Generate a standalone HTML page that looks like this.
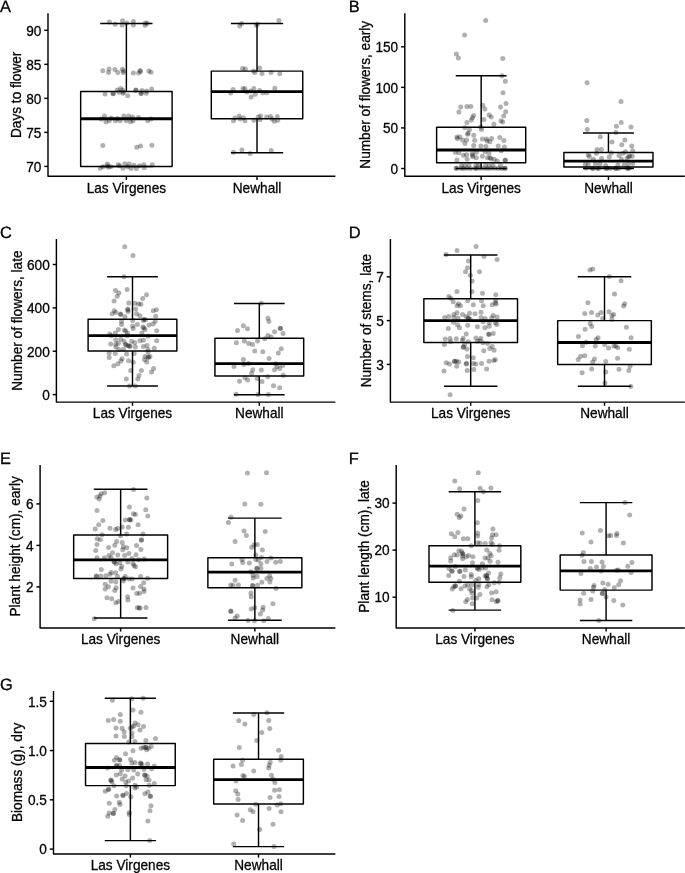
<!DOCTYPE html>
<html><head><meta charset="utf-8"><style>
html,body{margin:0;padding:0;background:#fff;}
svg{display:block;}
text{font-family:"Liberation Sans",sans-serif;font-size:14.6px;fill:#000;stroke:#000;stroke-width:0.3px;}
</style></head><body>
<svg width="685" height="873" viewBox="0 0 685 873">
<g fill="#000" fill-opacity="0.31" stroke="none"><circle cx="109.4" cy="22.1" r="2.5"/><circle cx="115.2" cy="24.2" r="2.5"/><circle cx="122.5" cy="20.7" r="2.5"/><circle cx="122.2" cy="25.0" r="2.5"/><circle cx="126.8" cy="23.1" r="2.5"/><circle cx="133.4" cy="21.5" r="2.5"/><circle cx="133.4" cy="25.0" r="2.5"/><circle cx="145.3" cy="23.1" r="2.5"/><circle cx="147.2" cy="23.3" r="2.5"/><circle cx="145.1" cy="25.2" r="2.5"/><circle cx="102.8" cy="70.8" r="2.5"/><circle cx="109" cy="68.9" r="2.5"/><circle cx="108.5" cy="72.4" r="2.5"/><circle cx="114.9" cy="69.6" r="2.5"/><circle cx="117.8" cy="72.6" r="2.5"/><circle cx="122.3" cy="69.3" r="2.5"/><circle cx="123.3" cy="72.4" r="2.5"/><circle cx="123.5" cy="71" r="2.5"/><circle cx="133.4" cy="72.9" r="2.5"/><circle cx="138.6" cy="73.1" r="2.5"/><circle cx="140.1" cy="70.5" r="2.5"/><circle cx="140.5" cy="71.5" r="2.5"/><circle cx="148.9" cy="71" r="2.5"/><circle cx="151" cy="72.2" r="2.5"/><circle cx="105" cy="94.0" r="2.5"/><circle cx="113" cy="93.8" r="2.5"/><circle cx="113.3" cy="93.5" r="2.5"/><circle cx="117.3" cy="90" r="2.5"/><circle cx="120.6" cy="88.5" r="2.5"/><circle cx="119.2" cy="92.3" r="2.5"/><circle cx="122.5" cy="90" r="2.5"/><circle cx="123" cy="93.3" r="2.5"/><circle cx="123.5" cy="91.9" r="2.5"/><circle cx="127.7" cy="95.7" r="2.5"/><circle cx="135.8" cy="90" r="2.5"/><circle cx="136" cy="90.3" r="2.5"/><circle cx="141" cy="93.3" r="2.5"/><circle cx="141.2" cy="93.6" r="2.5"/><circle cx="142" cy="90.4" r="2.5"/><circle cx="146.7" cy="90.9" r="2.5"/><circle cx="146.2" cy="93.3" r="2.5"/><circle cx="151.7" cy="89" r="2.5"/><circle cx="101.2" cy="118.9" r="2.5"/><circle cx="104.5" cy="115.9" r="2.5"/><circle cx="105.9" cy="121.7" r="2.5"/><circle cx="109.2" cy="120.8" r="2.5"/><circle cx="111.1" cy="118" r="2.5"/><circle cx="115.4" cy="120.8" r="2.5"/><circle cx="117.3" cy="118.4" r="2.5"/><circle cx="120.1" cy="120.8" r="2.5"/><circle cx="123.9" cy="115.9" r="2.5"/><circle cx="126.3" cy="120.8" r="2.5"/><circle cx="128.7" cy="115.9" r="2.5"/><circle cx="130.6" cy="121.7" r="2.5"/><circle cx="132.5" cy="117" r="2.5"/><circle cx="133" cy="120.8" r="2.5"/><circle cx="138.6" cy="117.5" r="2.5"/><circle cx="147.7" cy="120.8" r="2.5"/><circle cx="151" cy="118.9" r="2.5"/><circle cx="102.8" cy="145.4" r="2.5"/><circle cx="136.7" cy="147.3" r="2.5"/><circle cx="140.5" cy="146.1" r="2.5"/><circle cx="151.9" cy="145.2" r="2.5"/><circle cx="100.2" cy="168.2" r="2.5"/><circle cx="103.1" cy="166.7" r="2.5"/><circle cx="107.3" cy="163.9" r="2.5"/><circle cx="108.3" cy="167.2" r="2.5"/><circle cx="107.8" cy="165.8" r="2.5"/><circle cx="110.7" cy="166.7" r="2.5"/><circle cx="118.2" cy="164.8" r="2.5"/><circle cx="119.7" cy="165.8" r="2.5"/><circle cx="123" cy="168.2" r="2.5"/><circle cx="124.9" cy="163.7" r="2.5"/><circle cx="127.7" cy="166.7" r="2.5"/><circle cx="129.2" cy="163.9" r="2.5"/><circle cx="131" cy="168.6" r="2.5"/><circle cx="133.9" cy="165.3" r="2.5"/><circle cx="136.3" cy="168.6" r="2.5"/><circle cx="139.6" cy="165.8" r="2.5"/><circle cx="143.9" cy="164.8" r="2.5"/><circle cx="144.3" cy="167.7" r="2.5"/><circle cx="152.4" cy="164.8" r="2.5"/><circle cx="241.6" cy="23.5" r="2.5"/><circle cx="239.7" cy="25.9" r="2.5"/><circle cx="257.3" cy="24" r="2.5"/><circle cx="256.3" cy="25.4" r="2.5"/><circle cx="278.9" cy="20.5" r="2.5"/><circle cx="242.6" cy="68.6" r="2.5"/><circle cx="245.4" cy="68.9" r="2.5"/><circle cx="253.5" cy="71" r="2.5"/><circle cx="254.9" cy="72.4" r="2.5"/><circle cx="259.6" cy="68.1" r="2.5"/><circle cx="262" cy="73.6" r="2.5"/><circle cx="271" cy="72.4" r="2.5"/><circle cx="279.8" cy="73.8" r="2.5"/><circle cx="230.7" cy="93.1" r="2.5"/><circle cx="233.1" cy="89.5" r="2.5"/><circle cx="243" cy="88.5" r="2.5"/><circle cx="244.9" cy="88.7" r="2.5"/><circle cx="246.8" cy="92.1" r="2.5"/><circle cx="250.6" cy="90.9" r="2.5"/><circle cx="251.1" cy="96.9" r="2.5"/><circle cx="253.9" cy="88.5" r="2.5"/><circle cx="255.2" cy="94.2" r="2.5"/><circle cx="259.6" cy="90.4" r="2.5"/><circle cx="262.8" cy="92.8" r="2.5"/><circle cx="266.7" cy="92.8" r="2.5"/><circle cx="274.8" cy="88.3" r="2.5"/><circle cx="233.5" cy="120.8" r="2.5"/><circle cx="235" cy="118" r="2.5"/><circle cx="239.2" cy="116.1" r="2.5"/><circle cx="240.2" cy="118.9" r="2.5"/><circle cx="243.5" cy="117.8" r="2.5"/><circle cx="244.9" cy="120.8" r="2.5"/><circle cx="253.9" cy="120.3" r="2.5"/><circle cx="258.2" cy="117" r="2.5"/><circle cx="260.6" cy="115.9" r="2.5"/><circle cx="260.1" cy="119.8" r="2.5"/><circle cx="266.7" cy="117" r="2.5"/><circle cx="270.5" cy="116.5" r="2.5"/><circle cx="272" cy="118.9" r="2.5"/><circle cx="274.3" cy="121.3" r="2.5"/><circle cx="277.2" cy="116.5" r="2.5"/><circle cx="277.7" cy="120.3" r="2.5"/><circle cx="233.5" cy="152.3" r="2.5"/><circle cx="241.9" cy="149.9" r="2.5"/><circle cx="250.1" cy="153.5" r="2.5"/><circle cx="271.2" cy="150.4" r="2.5"/><circle cx="485.7" cy="20.5" r="2.5"/><circle cx="464.6" cy="35" r="2.5"/><circle cx="456.4" cy="54" r="2.5"/><circle cx="458.4" cy="58" r="2.5"/><circle cx="502.8" cy="58.6" r="2.5"/><circle cx="502" cy="75.7" r="2.5"/><circle cx="505.3" cy="81.2" r="2.5"/><circle cx="503" cy="92.8" r="2.5"/><circle cx="506" cy="103.4" r="2.5"/><circle cx="500.5" cy="106.9" r="2.5"/><circle cx="505.7" cy="111.8" r="2.5"/><circle cx="503.7" cy="115.9" r="2.5"/><circle cx="500.9" cy="120.8" r="2.5"/><circle cx="502.7" cy="121.9" r="2.5"/><circle cx="460.7" cy="106.9" r="2.5"/><circle cx="466.9" cy="106.6" r="2.5"/><circle cx="470.8" cy="106.6" r="2.5"/><circle cx="458.9" cy="112" r="2.5"/><circle cx="473.6" cy="115.5" r="2.5"/><circle cx="472.4" cy="117.7" r="2.5"/><circle cx="471.3" cy="120.1" r="2.5"/><circle cx="466.9" cy="122.4" r="2.5"/><circle cx="482.8" cy="105.2" r="2.5"/><circle cx="484.9" cy="109" r="2.5"/><circle cx="489.1" cy="114.9" r="2.5"/><circle cx="491.2" cy="116.9" r="2.5"/><circle cx="483.8" cy="119.4" r="2.5"/><circle cx="493.9" cy="124.2" r="2.5"/><circle cx="464.8" cy="127.7" r="2.5"/><circle cx="469.4" cy="129.8" r="2.5"/><circle cx="480.8" cy="127" r="2.5"/><circle cx="481.5" cy="129.4" r="2.5"/><circle cx="468.1" cy="133.3" r="2.5"/><circle cx="467.6" cy="134.3" r="2.5"/><circle cx="473.7" cy="135.3" r="2.5"/><circle cx="456.9" cy="136.9" r="2.5"/><circle cx="459.9" cy="136.9" r="2.5"/><circle cx="457.4" cy="138.4" r="2.5"/><circle cx="462.5" cy="139.9" r="2.5"/><circle cx="466.6" cy="139.9" r="2.5"/><circle cx="465" cy="143.5" r="2.5"/><circle cx="474.7" cy="140.2" r="2.5"/><circle cx="482.4" cy="138.9" r="2.5"/><circle cx="486.5" cy="138.9" r="2.5"/><circle cx="487" cy="140.9" r="2.5"/><circle cx="489.9" cy="141.7" r="2.5"/><circle cx="491.6" cy="138.4" r="2.5"/><circle cx="499.8" cy="137.4" r="2.5"/><circle cx="503.9" cy="140.4" r="2.5"/><circle cx="473.7" cy="145.5" r="2.5"/><circle cx="480.9" cy="146.1" r="2.5"/><circle cx="486" cy="146.6" r="2.5"/><circle cx="498.2" cy="146.1" r="2.5"/><circle cx="504.4" cy="147.1" r="2.5"/><circle cx="455.3" cy="152.2" r="2.5"/><circle cx="458.9" cy="152.7" r="2.5"/><circle cx="463.5" cy="155.3" r="2.5"/><circle cx="466.6" cy="154.7" r="2.5"/><circle cx="467.1" cy="159.3" r="2.5"/><circle cx="456.9" cy="159.9" r="2.5"/><circle cx="472.2" cy="153.7" r="2.5"/><circle cx="472.7" cy="155.3" r="2.5"/><circle cx="472.7" cy="156.8" r="2.5"/><circle cx="476.3" cy="157.8" r="2.5"/><circle cx="476.3" cy="152.2" r="2.5"/><circle cx="482.4" cy="156.3" r="2.5"/><circle cx="485" cy="151.7" r="2.5"/><circle cx="489" cy="153.2" r="2.5"/><circle cx="487.5" cy="157.8" r="2.5"/><circle cx="490" cy="157.8" r="2.5"/><circle cx="491.1" cy="158.8" r="2.5"/><circle cx="494.2" cy="159.3" r="2.5"/><circle cx="497.2" cy="160.9" r="2.5"/><circle cx="505.4" cy="159.9" r="2.5"/><circle cx="505.0" cy="160.5" r="2.5"/><circle cx="501.3" cy="150.7" r="2.5"/><circle cx="461.5" cy="165.4" r="2.5"/><circle cx="465" cy="165.8" r="2.5"/><circle cx="469" cy="165.3" r="2.5"/><circle cx="476" cy="165.6" r="2.5"/><circle cx="478.5" cy="165.2" r="2.5"/><circle cx="485.5" cy="165.5" r="2.5"/><circle cx="489" cy="165.8" r="2.5"/><circle cx="493" cy="165.3" r="2.5"/><circle cx="500.5" cy="165.6" r="2.5"/><circle cx="456.1" cy="168.3" r="2.5"/><circle cx="456.6" cy="168.2" r="2.5"/><circle cx="461" cy="168.2" r="2.5"/><circle cx="463.5" cy="168.4" r="2.5"/><circle cx="467" cy="168.2" r="2.5"/><circle cx="470.5" cy="168.4" r="2.5"/><circle cx="475" cy="168.2" r="2.5"/><circle cx="476.5" cy="168.4" r="2.5"/><circle cx="480" cy="168.3" r="2.5"/><circle cx="484" cy="168.2" r="2.5"/><circle cx="487.5" cy="168.4" r="2.5"/><circle cx="491" cy="168.2" r="2.5"/><circle cx="494.5" cy="168.3" r="2.5"/><circle cx="498" cy="168.2" r="2.5"/><circle cx="501.5" cy="168.4" r="2.5"/><circle cx="505.2" cy="168.3" r="2.5"/><circle cx="504.8" cy="168.2" r="2.5"/><circle cx="587.1" cy="82.8" r="2.5"/><circle cx="621" cy="101.5" r="2.5"/><circle cx="586.8" cy="120.6" r="2.5"/><circle cx="621.2" cy="122.6" r="2.5"/><circle cx="616.4" cy="126.3" r="2.5"/><circle cx="631" cy="127" r="2.5"/><circle cx="587.3" cy="129.4" r="2.5"/><circle cx="615.9" cy="132.5" r="2.5"/><circle cx="600.3" cy="136.7" r="2.5"/><circle cx="612" cy="142" r="2.5"/><circle cx="624.9" cy="139.9" r="2.5"/><circle cx="621.8" cy="144.7" r="2.5"/><circle cx="631.7" cy="146.1" r="2.5"/><circle cx="597" cy="149.6" r="2.5"/><circle cx="601.4" cy="149.6" r="2.5"/><circle cx="596.5" cy="153.2" r="2.5"/><circle cx="632.7" cy="150.7" r="2.5"/><circle cx="625.6" cy="151.7" r="2.5"/><circle cx="623" cy="153.2" r="2.5"/><circle cx="611.3" cy="152.9" r="2.5"/><circle cx="588.3" cy="154.7" r="2.5"/><circle cx="589.3" cy="156.6" r="2.5"/><circle cx="609.2" cy="157" r="2.5"/><circle cx="619" cy="155.6" r="2.5"/><circle cx="629.7" cy="155.8" r="2.5"/><circle cx="628.6" cy="156.8" r="2.5"/><circle cx="632.2" cy="156.3" r="2.5"/><circle cx="601.6" cy="158.6" r="2.5"/><circle cx="593.4" cy="159.3" r="2.5"/><circle cx="621.5" cy="159.3" r="2.5"/><circle cx="627.1" cy="158.3" r="2.5"/><circle cx="585.2" cy="164.5" r="2.5"/><circle cx="588.3" cy="164.5" r="2.5"/><circle cx="595.4" cy="163.9" r="2.5"/><circle cx="600" cy="163.9" r="2.5"/><circle cx="617.9" cy="165" r="2.5"/><circle cx="624" cy="165" r="2.5"/><circle cx="628.1" cy="163.9" r="2.5"/><circle cx="632.7" cy="163.4" r="2.5"/><circle cx="592.2" cy="168.3" r="2.5"/><circle cx="597.5" cy="168.2" r="2.5"/><circle cx="606.3" cy="168.4" r="2.5"/><circle cx="610.3" cy="168.3" r="2.5"/><circle cx="615" cy="168.2" r="2.5"/><circle cx="618.5" cy="168.4" r="2.5"/><circle cx="627.3" cy="168.3" r="2.5"/><circle cx="629.2" cy="168.2" r="2.5"/><circle cx="605.7" cy="165.5" r="2.5"/><circle cx="586" cy="168.3" r="2.5"/><circle cx="593" cy="168.4" r="2.5"/><circle cx="598.5" cy="168.4" r="2.5"/><circle cx="606.8" cy="168.3" r="2.5"/><circle cx="616" cy="168.4" r="2.5"/><circle cx="628" cy="168.3" r="2.5"/><circle cx="124.7" cy="246.7" r="2.5"/><circle cx="133" cy="255.6" r="2.5"/><circle cx="124" cy="276.8" r="2.5"/><circle cx="115.5" cy="290.4" r="2.5"/><circle cx="127.1" cy="289.6" r="2.5"/><circle cx="118.9" cy="293" r="2.5"/><circle cx="117.2" cy="296.3" r="2.5"/><circle cx="114.1" cy="300.9" r="2.5"/><circle cx="128.8" cy="302.9" r="2.5"/><circle cx="146.5" cy="294.8" r="2.5"/><circle cx="142.7" cy="298.6" r="2.5"/><circle cx="134.9" cy="303.2" r="2.5"/><circle cx="138.6" cy="303.9" r="2.5"/><circle cx="140.9" cy="304.3" r="2.5"/><circle cx="127.8" cy="309.1" r="2.5"/><circle cx="128.1" cy="311.6" r="2.5"/><circle cx="127.8" cy="310.1" r="2.5"/><circle cx="135.6" cy="309.1" r="2.5"/><circle cx="114.3" cy="310.8" r="2.5"/><circle cx="115.8" cy="312.6" r="2.5"/><circle cx="112.1" cy="313.7" r="2.5"/><circle cx="120.9" cy="314.5" r="2.5"/><circle cx="120.4" cy="313.9" r="2.5"/><circle cx="125" cy="316.7" r="2.5"/><circle cx="136.6" cy="313.7" r="2.5"/><circle cx="139.9" cy="315.7" r="2.5"/><circle cx="153.3" cy="310.8" r="2.5"/><circle cx="156.4" cy="309.8" r="2.5"/><circle cx="155.7" cy="316.2" r="2.5"/><circle cx="143.9" cy="319.3" r="2.5"/><circle cx="145.5" cy="319.8" r="2.5"/><circle cx="143.4" cy="320.6" r="2.5"/><circle cx="132.7" cy="320.6" r="2.5"/><circle cx="121.5" cy="321.3" r="2.5"/><circle cx="121.5" cy="324.4" r="2.5"/><circle cx="137.3" cy="324.4" r="2.5"/><circle cx="132.7" cy="325.9" r="2.5"/><circle cx="133.2" cy="328.5" r="2.5"/><circle cx="149" cy="324.9" r="2.5"/><circle cx="153.1" cy="323.9" r="2.5"/><circle cx="155.2" cy="321.3" r="2.5"/><circle cx="142.9" cy="326.9" r="2.5"/><circle cx="143.9" cy="328" r="2.5"/><circle cx="145" cy="329.5" r="2.5"/><circle cx="118.4" cy="329.5" r="2.5"/><circle cx="124.5" cy="330" r="2.5"/><circle cx="125.5" cy="331" r="2.5"/><circle cx="156.7" cy="330.8" r="2.5"/><circle cx="109.7" cy="334.1" r="2.5"/><circle cx="115.3" cy="333.1" r="2.5"/><circle cx="127.6" cy="333.1" r="2.5"/><circle cx="141.9" cy="333.1" r="2.5"/><circle cx="111.2" cy="335.7" r="2.5"/><circle cx="127.1" cy="335.7" r="2.5"/><circle cx="148" cy="336.2" r="2.5"/><circle cx="115.8" cy="339.8" r="2.5"/><circle cx="120.9" cy="339.2" r="2.5"/><circle cx="124" cy="341.3" r="2.5"/><circle cx="131.7" cy="341.3" r="2.5"/><circle cx="134.7" cy="342.8" r="2.5"/><circle cx="139.9" cy="340.8" r="2.5"/><circle cx="143.4" cy="340.3" r="2.5"/><circle cx="156.7" cy="340.8" r="2.5"/><circle cx="110.7" cy="344.1" r="2.5"/><circle cx="115.8" cy="344.3" r="2.5"/><circle cx="118.4" cy="343.3" r="2.5"/><circle cx="115.8" cy="346.9" r="2.5"/><circle cx="125.5" cy="344.3" r="2.5"/><circle cx="126" cy="345" r="2.5"/><circle cx="128.1" cy="345.4" r="2.5"/><circle cx="129.6" cy="346.4" r="2.5"/><circle cx="130" cy="346" r="2.5"/><circle cx="135.3" cy="346.9" r="2.5"/><circle cx="143.4" cy="346.4" r="2.5"/><circle cx="147" cy="345.4" r="2.5"/><circle cx="154.2" cy="348.2" r="2.5"/><circle cx="118.9" cy="349.5" r="2.5"/><circle cx="123.5" cy="349.3" r="2.5"/><circle cx="148" cy="349.5" r="2.5"/><circle cx="148" cy="352" r="2.5"/><circle cx="109.2" cy="353" r="2.5"/><circle cx="115.3" cy="353.5" r="2.5"/><circle cx="126.6" cy="354.1" r="2.5"/><circle cx="134.2" cy="353.5" r="2.5"/><circle cx="109.2" cy="357.6" r="2.5"/><circle cx="122" cy="358.7" r="2.5"/><circle cx="145" cy="356.6" r="2.5"/><circle cx="148" cy="357.1" r="2.5"/><circle cx="148.5" cy="357.5" r="2.5"/><circle cx="150" cy="356.6" r="2.5"/><circle cx="120.9" cy="361" r="2.5"/><circle cx="117.9" cy="363.8" r="2.5"/><circle cx="113.8" cy="365.8" r="2.5"/><circle cx="128.6" cy="360.7" r="2.5"/><circle cx="133.2" cy="362.3" r="2.5"/><circle cx="144.5" cy="359.7" r="2.5"/><circle cx="146.8" cy="362.1" r="2.5"/><circle cx="130.7" cy="370.4" r="2.5"/><circle cx="141.4" cy="370.6" r="2.5"/><circle cx="153.6" cy="368.4" r="2.5"/><circle cx="151.6" cy="372" r="2.5"/><circle cx="139" cy="375.5" r="2.5"/><circle cx="137.8" cy="379.1" r="2.5"/><circle cx="126.4" cy="379.1" r="2.5"/><circle cx="129.6" cy="386" r="2.5"/><circle cx="135.3" cy="386" r="2.5"/><circle cx="261.3" cy="303.2" r="2.5"/><circle cx="267.9" cy="318.3" r="2.5"/><circle cx="268.9" cy="321.4" r="2.5"/><circle cx="243.4" cy="325.7" r="2.5"/><circle cx="247.5" cy="328.7" r="2.5"/><circle cx="237.5" cy="330.6" r="2.5"/><circle cx="280.2" cy="328.2" r="2.5"/><circle cx="280.5" cy="328.5" r="2.5"/><circle cx="274.6" cy="331.8" r="2.5"/><circle cx="283" cy="333.6" r="2.5"/><circle cx="267.9" cy="335.4" r="2.5"/><circle cx="271" cy="337.1" r="2.5"/><circle cx="264.9" cy="338.7" r="2.5"/><circle cx="257.5" cy="341" r="2.5"/><circle cx="244.4" cy="341" r="2.5"/><circle cx="236.4" cy="342.8" r="2.5"/><circle cx="248.7" cy="343.5" r="2.5"/><circle cx="252.6" cy="344.6" r="2.5"/><circle cx="254.8" cy="351.1" r="2.5"/><circle cx="262.8" cy="351.8" r="2.5"/><circle cx="281.2" cy="348.7" r="2.5"/><circle cx="278.3" cy="353.1" r="2.5"/><circle cx="243.4" cy="359.5" r="2.5"/><circle cx="269.1" cy="358.4" r="2.5"/><circle cx="243.9" cy="364.6" r="2.5"/><circle cx="248.5" cy="363.5" r="2.5"/><circle cx="234" cy="366.6" r="2.5"/><circle cx="275.6" cy="363.8" r="2.5"/><circle cx="277.1" cy="366.6" r="2.5"/><circle cx="279.7" cy="368.5" r="2.5"/><circle cx="282.7" cy="365.6" r="2.5"/><circle cx="252.8" cy="369.7" r="2.5"/><circle cx="261.3" cy="369.9" r="2.5"/><circle cx="274.6" cy="369.7" r="2.5"/><circle cx="251.6" cy="373.2" r="2.5"/><circle cx="267.7" cy="376.8" r="2.5"/><circle cx="283.2" cy="375.3" r="2.5"/><circle cx="244.9" cy="377.8" r="2.5"/><circle cx="247.7" cy="379.9" r="2.5"/><circle cx="239.5" cy="381.2" r="2.5"/><circle cx="257.2" cy="378.6" r="2.5"/><circle cx="262" cy="381.6" r="2.5"/><circle cx="273.5" cy="385.7" r="2.5"/><circle cx="279.7" cy="387.8" r="2.5"/><circle cx="236" cy="394.2" r="2.5"/><circle cx="257.9" cy="394.5" r="2.5"/><circle cx="268.4" cy="394.5" r="2.5"/><circle cx="476.1" cy="246.6" r="2.5"/><circle cx="457" cy="250.5" r="2.5"/><circle cx="446" cy="254.6" r="2.5"/><circle cx="484" cy="256.4" r="2.5"/><circle cx="497.1" cy="259.6" r="2.5"/><circle cx="468.5" cy="260.9" r="2.5"/><circle cx="467.5" cy="267.8" r="2.5"/><circle cx="465.5" cy="271.7" r="2.5"/><circle cx="479.5" cy="271.7" r="2.5"/><circle cx="470.3" cy="275.3" r="2.5"/><circle cx="472" cy="281.1" r="2.5"/><circle cx="457" cy="291.6" r="2.5"/><circle cx="472" cy="291.6" r="2.5"/><circle cx="482.5" cy="293.3" r="2.5"/><circle cx="495.8" cy="294.7" r="2.5"/><circle cx="448.8" cy="296.6" r="2.5"/><circle cx="450.8" cy="298.2" r="2.5"/><circle cx="453.2" cy="301.8" r="2.5"/><circle cx="467.7" cy="300.7" r="2.5"/><circle cx="481.5" cy="300.7" r="2.5"/><circle cx="495.8" cy="300.2" r="2.5"/><circle cx="495.3" cy="302.8" r="2.5"/><circle cx="496.1" cy="304.1" r="2.5"/><circle cx="492.2" cy="304.8" r="2.5"/><circle cx="458.5" cy="303.8" r="2.5"/><circle cx="457" cy="305.8" r="2.5"/><circle cx="460.5" cy="305.8" r="2.5"/><circle cx="473.3" cy="304.8" r="2.5"/><circle cx="483.2" cy="305.8" r="2.5"/><circle cx="457" cy="312.7" r="2.5"/><circle cx="453.9" cy="314.5" r="2.5"/><circle cx="462.6" cy="314.5" r="2.5"/><circle cx="469.5" cy="313.3" r="2.5"/><circle cx="474.9" cy="313.7" r="2.5"/><circle cx="481" cy="312.3" r="2.5"/><circle cx="444.7" cy="317.4" r="2.5"/><circle cx="448.8" cy="316.4" r="2.5"/><circle cx="453.9" cy="317.6" r="2.5"/><circle cx="458" cy="318.1" r="2.5"/><circle cx="466.2" cy="316.4" r="2.5"/><circle cx="468.2" cy="318.1" r="2.5"/><circle cx="468.6" cy="318.5" r="2.5"/><circle cx="470.3" cy="319.6" r="2.5"/><circle cx="481" cy="317.4" r="2.5"/><circle cx="485.1" cy="318.6" r="2.5"/><circle cx="493.2" cy="315.5" r="2.5"/><circle cx="497.1" cy="317.1" r="2.5"/><circle cx="491.7" cy="318.1" r="2.5"/><circle cx="453.4" cy="322.2" r="2.5"/><circle cx="457.5" cy="324.7" r="2.5"/><circle cx="459.5" cy="327.8" r="2.5"/><circle cx="448.3" cy="328.6" r="2.5"/><circle cx="467.7" cy="325.3" r="2.5"/><circle cx="477.4" cy="326.8" r="2.5"/><circle cx="483" cy="321.7" r="2.5"/><circle cx="484.9" cy="327.8" r="2.5"/><circle cx="489.2" cy="322.7" r="2.5"/><circle cx="489.2" cy="326.3" r="2.5"/><circle cx="495.3" cy="322.7" r="2.5"/><circle cx="496.8" cy="324.5" r="2.5"/><circle cx="466.2" cy="333.9" r="2.5"/><circle cx="488.6" cy="333.9" r="2.5"/><circle cx="489" cy="334.4" r="2.5"/><circle cx="493.2" cy="333.4" r="2.5"/><circle cx="445.2" cy="339" r="2.5"/><circle cx="450.1" cy="338.4" r="2.5"/><circle cx="450.5" cy="341.8" r="2.5"/><circle cx="456.3" cy="338.7" r="2.5"/><circle cx="463.1" cy="338.2" r="2.5"/><circle cx="462.4" cy="340.5" r="2.5"/><circle cx="475.9" cy="338" r="2.5"/><circle cx="480.8" cy="338.2" r="2.5"/><circle cx="477.4" cy="341.3" r="2.5"/><circle cx="480" cy="340.8" r="2.5"/><circle cx="483" cy="342.8" r="2.5"/><circle cx="487.6" cy="343.5" r="2.5"/><circle cx="468.2" cy="341.8" r="2.5"/><circle cx="444.4" cy="344.6" r="2.5"/><circle cx="464.6" cy="344.6" r="2.5"/><circle cx="463.1" cy="346.9" r="2.5"/><circle cx="463.5" cy="347.3" r="2.5"/><circle cx="466.9" cy="349" r="2.5"/><circle cx="483.8" cy="350.7" r="2.5"/><circle cx="489.7" cy="348.6" r="2.5"/><circle cx="492.2" cy="346.4" r="2.5"/><circle cx="494.1" cy="350.3" r="2.5"/><circle cx="467.5" cy="356.6" r="2.5"/><circle cx="473.3" cy="357.8" r="2.5"/><circle cx="446.2" cy="362.7" r="2.5"/><circle cx="449.5" cy="364" r="2.5"/><circle cx="454.4" cy="361.2" r="2.5"/><circle cx="454.8" cy="361.6" r="2.5"/><circle cx="456.5" cy="361.2" r="2.5"/><circle cx="458.7" cy="361.9" r="2.5"/><circle cx="456.7" cy="366.3" r="2.5"/><circle cx="466.5" cy="363.3" r="2.5"/><circle cx="466.2" cy="364" r="2.5"/><circle cx="473.3" cy="363.6" r="2.5"/><circle cx="475.9" cy="364" r="2.5"/><circle cx="481.5" cy="363.6" r="2.5"/><circle cx="489" cy="361.2" r="2.5"/><circle cx="493.8" cy="360.5" r="2.5"/><circle cx="495.3" cy="359.7" r="2.5"/><circle cx="444" cy="370.9" r="2.5"/><circle cx="467.2" cy="370.4" r="2.5"/><circle cx="473.8" cy="369.4" r="2.5"/><circle cx="486.6" cy="368.9" r="2.5"/><circle cx="450.1" cy="394.7" r="2.5"/><circle cx="589.9" cy="269.9" r="2.5"/><circle cx="592.7" cy="269.1" r="2.5"/><circle cx="609.3" cy="276.4" r="2.5"/><circle cx="621.1" cy="280.8" r="2.5"/><circle cx="614.5" cy="294.1" r="2.5"/><circle cx="587.9" cy="302.8" r="2.5"/><circle cx="624.7" cy="303.8" r="2.5"/><circle cx="623.6" cy="305.9" r="2.5"/><circle cx="584.8" cy="313.5" r="2.5"/><circle cx="591.5" cy="312.5" r="2.5"/><circle cx="597.8" cy="314.9" r="2.5"/><circle cx="601.2" cy="312.5" r="2.5"/><circle cx="609" cy="311.8" r="2.5"/><circle cx="613.7" cy="314.6" r="2.5"/><circle cx="611.9" cy="315.6" r="2.5"/><circle cx="602.7" cy="318.6" r="2.5"/><circle cx="611.9" cy="319.2" r="2.5"/><circle cx="590.2" cy="323.5" r="2.5"/><circle cx="591.7" cy="326.6" r="2.5"/><circle cx="585.1" cy="329.2" r="2.5"/><circle cx="626.4" cy="327.2" r="2.5"/><circle cx="578.4" cy="336.6" r="2.5"/><circle cx="598.1" cy="337.8" r="2.5"/><circle cx="596.1" cy="339.4" r="2.5"/><circle cx="631.1" cy="337.8" r="2.5"/><circle cx="586.1" cy="342.2" r="2.5"/><circle cx="582.5" cy="345.8" r="2.5"/><circle cx="595.3" cy="346" r="2.5"/><circle cx="604.7" cy="344.5" r="2.5"/><circle cx="608.6" cy="348" r="2.5"/><circle cx="613.9" cy="346" r="2.5"/><circle cx="615.8" cy="346" r="2.5"/><circle cx="617.8" cy="347.8" r="2.5"/><circle cx="629.3" cy="349.3" r="2.5"/><circle cx="580.7" cy="356.2" r="2.5"/><circle cx="584.8" cy="355.7" r="2.5"/><circle cx="578.2" cy="359.5" r="2.5"/><circle cx="594.5" cy="359.1" r="2.5"/><circle cx="592.7" cy="361.9" r="2.5"/><circle cx="605.8" cy="361.6" r="2.5"/><circle cx="617.5" cy="358.3" r="2.5"/><circle cx="630.1" cy="366.3" r="2.5"/><circle cx="628.8" cy="370.5" r="2.5"/><circle cx="619" cy="369.3" r="2.5"/><circle cx="591.7" cy="369" r="2.5"/><circle cx="605.8" cy="372.1" r="2.5"/><circle cx="582.1" cy="372.8" r="2.5"/><circle cx="605" cy="383" r="2.5"/><circle cx="630.8" cy="386.4" r="2.5"/><circle cx="133.5" cy="489.4" r="2.5"/><circle cx="101.1" cy="493.8" r="2.5"/><circle cx="104.6" cy="492.8" r="2.5"/><circle cx="97" cy="496.9" r="2.5"/><circle cx="99.2" cy="498.9" r="2.5"/><circle cx="100.1" cy="495.9" r="2.5"/><circle cx="146.8" cy="497.9" r="2.5"/><circle cx="129.4" cy="507.1" r="2.5"/><circle cx="97" cy="510.5" r="2.5"/><circle cx="145.7" cy="509.7" r="2.5"/><circle cx="133.5" cy="513.8" r="2.5"/><circle cx="135.5" cy="514.6" r="2.5"/><circle cx="147.8" cy="516" r="2.5"/><circle cx="102.8" cy="520.4" r="2.5"/><circle cx="125.3" cy="519.9" r="2.5"/><circle cx="129.4" cy="519.4" r="2.5"/><circle cx="129.8" cy="519.8" r="2.5"/><circle cx="130.9" cy="519.9" r="2.5"/><circle cx="98.7" cy="524.8" r="2.5"/><circle cx="138.1" cy="524.8" r="2.5"/><circle cx="95.2" cy="528.9" r="2.5"/><circle cx="110" cy="528.3" r="2.5"/><circle cx="115.6" cy="529.6" r="2.5"/><circle cx="117.6" cy="528.6" r="2.5"/><circle cx="122.2" cy="527" r="2.5"/><circle cx="128.4" cy="527.3" r="2.5"/><circle cx="102.1" cy="534.7" r="2.5"/><circle cx="120.5" cy="535.7" r="2.5"/><circle cx="126.6" cy="534" r="2.5"/><circle cx="143" cy="534" r="2.5"/><circle cx="97.2" cy="538.8" r="2.5"/><circle cx="100.3" cy="539.8" r="2.5"/><circle cx="141.3" cy="539.8" r="2.5"/><circle cx="141.5" cy="540.2" r="2.5"/><circle cx="116.6" cy="541.6" r="2.5"/><circle cx="122.2" cy="542.6" r="2.5"/><circle cx="97" cy="544.6" r="2.5"/><circle cx="114.8" cy="545.2" r="2.5"/><circle cx="108.6" cy="547.5" r="2.5"/><circle cx="123.3" cy="546.7" r="2.5"/><circle cx="126.8" cy="547.7" r="2.5"/><circle cx="122.7" cy="549.7" r="2.5"/><circle cx="136.5" cy="545.6" r="2.5"/><circle cx="140.9" cy="549.5" r="2.5"/><circle cx="95.7" cy="550.5" r="2.5"/><circle cx="112.5" cy="552.8" r="2.5"/><circle cx="108.9" cy="555.5" r="2.5"/><circle cx="111" cy="557.5" r="2.5"/><circle cx="117.8" cy="555.1" r="2.5"/><circle cx="124.6" cy="555.5" r="2.5"/><circle cx="128.9" cy="553.6" r="2.5"/><circle cx="136" cy="554.8" r="2.5"/><circle cx="97" cy="557.7" r="2.5"/><circle cx="104.4" cy="557.7" r="2.5"/><circle cx="131.9" cy="558.5" r="2.5"/><circle cx="138.6" cy="559.7" r="2.5"/><circle cx="144.2" cy="558.9" r="2.5"/><circle cx="114.1" cy="561.8" r="2.5"/><circle cx="114.4" cy="562.2" r="2.5"/><circle cx="116.1" cy="563.8" r="2.5"/><circle cx="119.9" cy="562.8" r="2.5"/><circle cx="127.9" cy="562" r="2.5"/><circle cx="133" cy="563.6" r="2.5"/><circle cx="134" cy="565.4" r="2.5"/><circle cx="135.5" cy="566.7" r="2.5"/><circle cx="121.7" cy="566.4" r="2.5"/><circle cx="101.3" cy="569.5" r="2.5"/><circle cx="120.9" cy="569" r="2.5"/><circle cx="111.3" cy="572.5" r="2.5"/><circle cx="115.6" cy="572.8" r="2.5"/><circle cx="110" cy="574.3" r="2.5"/><circle cx="96.2" cy="576.4" r="2.5"/><circle cx="96.5" cy="576.1" r="2.5"/><circle cx="100.8" cy="576.1" r="2.5"/><circle cx="105.9" cy="575.8" r="2.5"/><circle cx="117.6" cy="576.4" r="2.5"/><circle cx="125.3" cy="576.6" r="2.5"/><circle cx="123.8" cy="578.4" r="2.5"/><circle cx="124.1" cy="578.8" r="2.5"/><circle cx="123.3" cy="581" r="2.5"/><circle cx="128.9" cy="578.9" r="2.5"/><circle cx="132.1" cy="578.9" r="2.5"/><circle cx="140.6" cy="576.4" r="2.5"/><circle cx="147.5" cy="578.2" r="2.5"/><circle cx="111" cy="581.3" r="2.5"/><circle cx="115.8" cy="582" r="2.5"/><circle cx="105.2" cy="584.3" r="2.5"/><circle cx="108.4" cy="586.8" r="2.5"/><circle cx="105.2" cy="589.1" r="2.5"/><circle cx="116.1" cy="587.8" r="2.5"/><circle cx="114.8" cy="590.5" r="2.5"/><circle cx="133" cy="588.1" r="2.5"/><circle cx="143.7" cy="582.7" r="2.5"/><circle cx="140.6" cy="586.4" r="2.5"/><circle cx="144" cy="589.1" r="2.5"/><circle cx="144" cy="591.5" r="2.5"/><circle cx="136.8" cy="593.5" r="2.5"/><circle cx="139.6" cy="593.2" r="2.5"/><circle cx="106.9" cy="597.8" r="2.5"/><circle cx="111.7" cy="598.8" r="2.5"/><circle cx="127.6" cy="596.8" r="2.5"/><circle cx="127.9" cy="599.9" r="2.5"/><circle cx="115.8" cy="602.7" r="2.5"/><circle cx="118.5" cy="601.4" r="2.5"/><circle cx="137.3" cy="607.5" r="2.5"/><circle cx="139.1" cy="608" r="2.5"/><circle cx="140.1" cy="608" r="2.5"/><circle cx="146" cy="607.5" r="2.5"/><circle cx="94.3" cy="618.8" r="2.5"/><circle cx="247.4" cy="473" r="2.5"/><circle cx="266.5" cy="472.7" r="2.5"/><circle cx="244.8" cy="504.1" r="2.5"/><circle cx="260.9" cy="504.3" r="2.5"/><circle cx="231" cy="517.3" r="2.5"/><circle cx="228.4" cy="522.4" r="2.5"/><circle cx="244" cy="531.1" r="2.5"/><circle cx="246.4" cy="535.6" r="2.5"/><circle cx="265.2" cy="531.4" r="2.5"/><circle cx="235.1" cy="541.4" r="2.5"/><circle cx="251.7" cy="547.2" r="2.5"/><circle cx="254.2" cy="544.8" r="2.5"/><circle cx="257.3" cy="544.6" r="2.5"/><circle cx="262.4" cy="550" r="2.5"/><circle cx="255.8" cy="554.9" r="2.5"/><circle cx="261.4" cy="557.4" r="2.5"/><circle cx="270.9" cy="557.9" r="2.5"/><circle cx="242" cy="559.5" r="2.5"/><circle cx="255.8" cy="559.5" r="2.5"/><circle cx="258.3" cy="560" r="2.5"/><circle cx="267" cy="561.5" r="2.5"/><circle cx="275.7" cy="562.2" r="2.5"/><circle cx="280.3" cy="561.5" r="2.5"/><circle cx="231.8" cy="564" r="2.5"/><circle cx="242.7" cy="562.5" r="2.5"/><circle cx="249.4" cy="563" r="2.5"/><circle cx="260.9" cy="563.8" r="2.5"/><circle cx="256.8" cy="568.3" r="2.5"/><circle cx="257.1" cy="568.6" r="2.5"/><circle cx="260.9" cy="568.3" r="2.5"/><circle cx="250.7" cy="571.8" r="2.5"/><circle cx="253.2" cy="575.3" r="2.5"/><circle cx="253.2" cy="577.9" r="2.5"/><circle cx="257" cy="576.6" r="2.5"/><circle cx="235.1" cy="580.2" r="2.5"/><circle cx="261.9" cy="582.3" r="2.5"/><circle cx="266.8" cy="578.6" r="2.5"/><circle cx="269.6" cy="575.8" r="2.5"/><circle cx="270.9" cy="578.4" r="2.5"/><circle cx="269.9" cy="582" r="2.5"/><circle cx="230.7" cy="585" r="2.5"/><circle cx="233.1" cy="585.5" r="2.5"/><circle cx="238.4" cy="585" r="2.5"/><circle cx="252.5" cy="585.5" r="2.5"/><circle cx="252.8" cy="585.8" r="2.5"/><circle cx="257.6" cy="585.3" r="2.5"/><circle cx="276" cy="588.6" r="2.5"/><circle cx="250.9" cy="592.9" r="2.5"/><circle cx="251.2" cy="596.8" r="2.5"/><circle cx="272.9" cy="603.7" r="2.5"/><circle cx="251.2" cy="609" r="2.5"/><circle cx="254.7" cy="607.8" r="2.5"/><circle cx="263.1" cy="607.2" r="2.5"/><circle cx="262.7" cy="609.9" r="2.5"/><circle cx="260.4" cy="614" r="2.5"/><circle cx="230.7" cy="611.1" r="2.5"/><circle cx="231" cy="611.4" r="2.5"/><circle cx="237.2" cy="616" r="2.5"/><circle cx="235.1" cy="618" r="2.5"/><circle cx="248.1" cy="620.5" r="2.5"/><circle cx="254.5" cy="620.8" r="2.5"/><circle cx="263.7" cy="620.8" r="2.5"/><circle cx="268.2" cy="618.5" r="2.5"/><circle cx="478.3" cy="472.7" r="2.5"/><circle cx="454.8" cy="481.1" r="2.5"/><circle cx="459.6" cy="488.7" r="2.5"/><circle cx="480.1" cy="488.3" r="2.5"/><circle cx="490.9" cy="488" r="2.5"/><circle cx="483.4" cy="491.8" r="2.5"/><circle cx="477.8" cy="500.6" r="2.5"/><circle cx="464" cy="508.9" r="2.5"/><circle cx="457.2" cy="514.3" r="2.5"/><circle cx="460.9" cy="515.9" r="2.5"/><circle cx="459.2" cy="517.6" r="2.5"/><circle cx="477.3" cy="522.7" r="2.5"/><circle cx="492.9" cy="528.9" r="2.5"/><circle cx="451.4" cy="533.7" r="2.5"/><circle cx="457.9" cy="532.6" r="2.5"/><circle cx="454.8" cy="536.7" r="2.5"/><circle cx="477.6" cy="533" r="2.5"/><circle cx="477.6" cy="536" r="2.5"/><circle cx="492.6" cy="534.7" r="2.5"/><circle cx="496" cy="534.7" r="2.5"/><circle cx="491.6" cy="538.1" r="2.5"/><circle cx="463.3" cy="538.8" r="2.5"/><circle cx="467.8" cy="538.8" r="2.5"/><circle cx="477.6" cy="542.7" r="2.5"/><circle cx="480.1" cy="543.2" r="2.5"/><circle cx="485.2" cy="543.5" r="2.5"/><circle cx="491.1" cy="542.7" r="2.5"/><circle cx="492.6" cy="544.5" r="2.5"/><circle cx="471.2" cy="545.7" r="2.5"/><circle cx="499.5" cy="545.7" r="2.5"/><circle cx="486.8" cy="550" r="2.5"/><circle cx="499.1" cy="550.3" r="2.5"/><circle cx="489.9" cy="553.4" r="2.5"/><circle cx="491.1" cy="555.7" r="2.5"/><circle cx="458.9" cy="550.8" r="2.5"/><circle cx="461.5" cy="551.3" r="2.5"/><circle cx="462.5" cy="553.4" r="2.5"/><circle cx="462.8" cy="553.8" r="2.5"/><circle cx="462.5" cy="555.9" r="2.5"/><circle cx="454.3" cy="554.7" r="2.5"/><circle cx="457.2" cy="554.9" r="2.5"/><circle cx="450.7" cy="557.8" r="2.5"/><circle cx="468.6" cy="555.4" r="2.5"/><circle cx="472.9" cy="556.8" r="2.5"/><circle cx="466.1" cy="556.8" r="2.5"/><circle cx="485" cy="558" r="2.5"/><circle cx="488" cy="558" r="2.5"/><circle cx="450.7" cy="561.1" r="2.5"/><circle cx="462.7" cy="558.7" r="2.5"/><circle cx="490.1" cy="561.3" r="2.5"/><circle cx="472.5" cy="562.8" r="2.5"/><circle cx="482.4" cy="563.8" r="2.5"/><circle cx="498" cy="562.3" r="2.5"/><circle cx="455.3" cy="566.4" r="2.5"/><circle cx="449" cy="568.4" r="2.5"/><circle cx="451.8" cy="571" r="2.5"/><circle cx="452.1" cy="571.3" r="2.5"/><circle cx="459.6" cy="571.3" r="2.5"/><circle cx="459.9" cy="571.6" r="2.5"/><circle cx="465.3" cy="570" r="2.5"/><circle cx="448.7" cy="575.4" r="2.5"/><circle cx="464" cy="576.4" r="2.5"/><circle cx="471.2" cy="574.4" r="2.5"/><circle cx="471.2" cy="576.8" r="2.5"/><circle cx="477.3" cy="567.9" r="2.5"/><circle cx="477.6" cy="568.3" r="2.5"/><circle cx="478.8" cy="569.5" r="2.5"/><circle cx="481.9" cy="567.9" r="2.5"/><circle cx="485.5" cy="567.9" r="2.5"/><circle cx="488.5" cy="573" r="2.5"/><circle cx="486.5" cy="575.6" r="2.5"/><circle cx="486.8" cy="575.9" r="2.5"/><circle cx="485" cy="576.1" r="2.5"/><circle cx="487.2" cy="578.5" r="2.5"/><circle cx="487.5" cy="578.8" r="2.5"/><circle cx="500.8" cy="574.1" r="2.5"/><circle cx="499.8" cy="577.8" r="2.5"/><circle cx="478.8" cy="578.7" r="2.5"/><circle cx="475.8" cy="580.5" r="2.5"/><circle cx="459.4" cy="581.2" r="2.5"/><circle cx="494.2" cy="582.7" r="2.5"/><circle cx="499.1" cy="582.2" r="2.5"/><circle cx="455.3" cy="585.8" r="2.5"/><circle cx="455.6" cy="586.1" r="2.5"/><circle cx="453.8" cy="586.8" r="2.5"/><circle cx="465" cy="586" r="2.5"/><circle cx="467.6" cy="584.8" r="2.5"/><circle cx="471.7" cy="585" r="2.5"/><circle cx="461" cy="588.7" r="2.5"/><circle cx="478.8" cy="584.6" r="2.5"/><circle cx="478.3" cy="587.3" r="2.5"/><circle cx="487" cy="586.8" r="2.5"/><circle cx="488.8" cy="584.6" r="2.5"/><circle cx="452.3" cy="588.9" r="2.5"/><circle cx="469.6" cy="588.9" r="2.5"/><circle cx="471.5" cy="590.8" r="2.5"/><circle cx="472.2" cy="593.3" r="2.5"/><circle cx="479.9" cy="594.4" r="2.5"/><circle cx="472.7" cy="598" r="2.5"/><circle cx="476.8" cy="598" r="2.5"/><circle cx="491.6" cy="593.1" r="2.5"/><circle cx="496" cy="591.8" r="2.5"/><circle cx="467.4" cy="599.5" r="2.5"/><circle cx="465.8" cy="601.7" r="2.5"/><circle cx="472.2" cy="603.8" r="2.5"/><circle cx="492.1" cy="599.7" r="2.5"/><circle cx="497.7" cy="600.5" r="2.5"/><circle cx="498" cy="600.8" r="2.5"/><circle cx="496.4" cy="601.7" r="2.5"/><circle cx="452.8" cy="610.5" r="2.5"/><circle cx="625" cy="502.4" r="2.5"/><circle cx="629.7" cy="514.9" r="2.5"/><circle cx="582.3" cy="533.1" r="2.5"/><circle cx="600.4" cy="530.6" r="2.5"/><circle cx="608.5" cy="535.7" r="2.5"/><circle cx="610.7" cy="535.5" r="2.5"/><circle cx="616.9" cy="533.5" r="2.5"/><circle cx="616.5" cy="535.5" r="2.5"/><circle cx="591" cy="541.9" r="2.5"/><circle cx="623.4" cy="543" r="2.5"/><circle cx="583.4" cy="552.5" r="2.5"/><circle cx="582" cy="555.2" r="2.5"/><circle cx="584" cy="561.5" r="2.5"/><circle cx="591.4" cy="561.5" r="2.5"/><circle cx="602" cy="562" r="2.5"/><circle cx="603.4" cy="566.4" r="2.5"/><circle cx="596.5" cy="567" r="2.5"/><circle cx="590.3" cy="568.6" r="2.5"/><circle cx="631.9" cy="562.6" r="2.5"/><circle cx="627.8" cy="566.2" r="2.5"/><circle cx="580.9" cy="573.5" r="2.5"/><circle cx="601.2" cy="571" r="2.5"/><circle cx="616.5" cy="570.3" r="2.5"/><circle cx="618.2" cy="569.9" r="2.5"/><circle cx="631.1" cy="572.4" r="2.5"/><circle cx="620.6" cy="580.7" r="2.5"/><circle cx="618.7" cy="584.8" r="2.5"/><circle cx="602.8" cy="583.1" r="2.5"/><circle cx="608.1" cy="584.2" r="2.5"/><circle cx="594.1" cy="585.6" r="2.5"/><circle cx="593.5" cy="587.2" r="2.5"/><circle cx="614.3" cy="587.8" r="2.5"/><circle cx="604.8" cy="589.4" r="2.5"/><circle cx="592.8" cy="591.1" r="2.5"/><circle cx="583.7" cy="593.2" r="2.5"/><circle cx="602.3" cy="593.2" r="2.5"/><circle cx="602.6" cy="593.5" r="2.5"/><circle cx="606.1" cy="597.1" r="2.5"/><circle cx="580.1" cy="600.1" r="2.5"/><circle cx="580.1" cy="603.9" r="2.5"/><circle cx="591" cy="599.5" r="2.5"/><circle cx="613.8" cy="600.6" r="2.5"/><circle cx="622.8" cy="605" r="2.5"/><circle cx="598.7" cy="620.6" r="2.5"/><circle cx="112.4" cy="700.2" r="2.5"/><circle cx="131.8" cy="698.7" r="2.5"/><circle cx="143.2" cy="698.2" r="2.5"/><circle cx="133" cy="709.9" r="2.5"/><circle cx="141" cy="712.3" r="2.5"/><circle cx="120.3" cy="714.5" r="2.5"/><circle cx="108.3" cy="720.5" r="2.5"/><circle cx="113.6" cy="719.6" r="2.5"/><circle cx="120.3" cy="721.2" r="2.5"/><circle cx="135.1" cy="722.9" r="2.5"/><circle cx="138.1" cy="724.7" r="2.5"/><circle cx="133.6" cy="726" r="2.5"/><circle cx="143.5" cy="726.6" r="2.5"/><circle cx="116" cy="728" r="2.5"/><circle cx="122.1" cy="728.3" r="2.5"/><circle cx="130.3" cy="728.3" r="2.5"/><circle cx="132" cy="727" r="2.5"/><circle cx="140" cy="729.9" r="2.5"/><circle cx="124.1" cy="731.7" r="2.5"/><circle cx="132" cy="732.9" r="2.5"/><circle cx="116" cy="736" r="2.5"/><circle cx="124.4" cy="736.5" r="2.5"/><circle cx="131.8" cy="736.8" r="2.5"/><circle cx="155.5" cy="738.5" r="2.5"/><circle cx="145.9" cy="740.6" r="2.5"/><circle cx="134.9" cy="741.6" r="2.5"/><circle cx="128.7" cy="742.1" r="2.5"/><circle cx="141" cy="748.2" r="2.5"/><circle cx="143.5" cy="747.4" r="2.5"/><circle cx="145.6" cy="747.2" r="2.5"/><circle cx="145.9" cy="747.6" r="2.5"/><circle cx="146.6" cy="749.8" r="2.5"/><circle cx="148.6" cy="748.2" r="2.5"/><circle cx="151.2" cy="746.4" r="2.5"/><circle cx="133" cy="750.8" r="2.5"/><circle cx="125.5" cy="753.8" r="2.5"/><circle cx="116.5" cy="757.6" r="2.5"/><circle cx="114.4" cy="760.3" r="2.5"/><circle cx="119.5" cy="759.7" r="2.5"/><circle cx="119.8" cy="760" r="2.5"/><circle cx="130.6" cy="759.5" r="2.5"/><circle cx="131.8" cy="763" r="2.5"/><circle cx="135.1" cy="762.5" r="2.5"/><circle cx="140.5" cy="763" r="2.5"/><circle cx="140.8" cy="763.4" r="2.5"/><circle cx="142" cy="764.4" r="2.5"/><circle cx="147.6" cy="764.1" r="2.5"/><circle cx="116.5" cy="765.4" r="2.5"/><circle cx="116.8" cy="765.8" r="2.5"/><circle cx="119.5" cy="765.4" r="2.5"/><circle cx="107.5" cy="768.1" r="2.5"/><circle cx="121.6" cy="769.7" r="2.5"/><circle cx="127.9" cy="769.7" r="2.5"/><circle cx="133.8" cy="769.9" r="2.5"/><circle cx="144" cy="769.2" r="2.5"/><circle cx="151.7" cy="768.7" r="2.5"/><circle cx="154.3" cy="766.1" r="2.5"/><circle cx="116.3" cy="775" r="2.5"/><circle cx="120.3" cy="773.8" r="2.5"/><circle cx="125.1" cy="776" r="2.5"/><circle cx="137.7" cy="774" r="2.5"/><circle cx="144.6" cy="775" r="2.5"/><circle cx="144.9" cy="775.3" r="2.5"/><circle cx="147.1" cy="776" r="2.5"/><circle cx="122.1" cy="779.1" r="2.5"/><circle cx="132.6" cy="777.9" r="2.5"/><circle cx="110.8" cy="780.1" r="2.5"/><circle cx="111.1" cy="780.4" r="2.5"/><circle cx="111.9" cy="781.7" r="2.5"/><circle cx="125.7" cy="782.1" r="2.5"/><circle cx="128.7" cy="780.9" r="2.5"/><circle cx="146.1" cy="779.7" r="2.5"/><circle cx="149" cy="779.9" r="2.5"/><circle cx="154.3" cy="783.5" r="2.5"/><circle cx="149.2" cy="785.2" r="2.5"/><circle cx="134.9" cy="785.2" r="2.5"/><circle cx="113.9" cy="785.8" r="2.5"/><circle cx="126.2" cy="785.8" r="2.5"/><circle cx="108.8" cy="789.1" r="2.5"/><circle cx="134.9" cy="788.1" r="2.5"/><circle cx="136.7" cy="787.1" r="2.5"/><circle cx="105.2" cy="791.2" r="2.5"/><circle cx="108.3" cy="789.7" r="2.5"/><circle cx="116.7" cy="796.1" r="2.5"/><circle cx="122.8" cy="795.3" r="2.5"/><circle cx="123.1" cy="795.6" r="2.5"/><circle cx="126.5" cy="793.4" r="2.5"/><circle cx="130.8" cy="796.8" r="2.5"/><circle cx="144.9" cy="793.8" r="2.5"/><circle cx="147.9" cy="792" r="2.5"/><circle cx="150.2" cy="796.1" r="2.5"/><circle cx="150.5" cy="796.4" r="2.5"/><circle cx="109.3" cy="803.3" r="2.5"/><circle cx="119.3" cy="802.2" r="2.5"/><circle cx="120" cy="804.5" r="2.5"/><circle cx="151" cy="805.7" r="2.5"/><circle cx="114.9" cy="809.6" r="2.5"/><circle cx="109.1" cy="812.9" r="2.5"/><circle cx="113.2" cy="813.2" r="2.5"/><circle cx="113.5" cy="813.5" r="2.5"/><circle cx="107.8" cy="816.2" r="2.5"/><circle cx="129.2" cy="812.5" r="2.5"/><circle cx="129.2" cy="814.5" r="2.5"/><circle cx="150" cy="810.8" r="2.5"/><circle cx="147.9" cy="821" r="2.5"/><circle cx="149.7" cy="840.5" r="2.5"/><circle cx="253.8" cy="714.4" r="2.5"/><circle cx="266.9" cy="712.7" r="2.5"/><circle cx="238.8" cy="720.8" r="2.5"/><circle cx="244.9" cy="723.9" r="2.5"/><circle cx="268.7" cy="720.5" r="2.5"/><circle cx="269.8" cy="728.5" r="2.5"/><circle cx="261.8" cy="732.6" r="2.5"/><circle cx="256.7" cy="740.6" r="2.5"/><circle cx="239.3" cy="747.4" r="2.5"/><circle cx="278.6" cy="750.2" r="2.5"/><circle cx="281.2" cy="756.6" r="2.5"/><circle cx="280.7" cy="760" r="2.5"/><circle cx="242.6" cy="760.2" r="2.5"/><circle cx="241.4" cy="764.6" r="2.5"/><circle cx="270.2" cy="762.2" r="2.5"/><circle cx="233" cy="766.1" r="2.5"/><circle cx="269.1" cy="765.2" r="2.5"/><circle cx="268.7" cy="768.1" r="2.5"/><circle cx="253.8" cy="771.1" r="2.5"/><circle cx="242.9" cy="775.4" r="2.5"/><circle cx="244.4" cy="776.5" r="2.5"/><circle cx="271.5" cy="775.2" r="2.5"/><circle cx="236" cy="781.1" r="2.5"/><circle cx="274.9" cy="782.6" r="2.5"/><circle cx="273" cy="779.3" r="2.5"/><circle cx="235.7" cy="790.8" r="2.5"/><circle cx="237.8" cy="794" r="2.5"/><circle cx="238.1" cy="799.5" r="2.5"/><circle cx="274.6" cy="790.3" r="2.5"/><circle cx="279.4" cy="789.7" r="2.5"/><circle cx="279" cy="796.4" r="2.5"/><circle cx="270" cy="797.4" r="2.5"/><circle cx="255.7" cy="804.3" r="2.5"/><circle cx="277.1" cy="805.1" r="2.5"/><circle cx="280.7" cy="803.8" r="2.5"/><circle cx="269.1" cy="808.6" r="2.5"/><circle cx="250.3" cy="809.7" r="2.5"/><circle cx="253.1" cy="811.8" r="2.5"/><circle cx="281" cy="811.8" r="2.5"/><circle cx="237.1" cy="815.1" r="2.5"/><circle cx="242.6" cy="820.4" r="2.5"/><circle cx="273" cy="824.3" r="2.5"/><circle cx="259.7" cy="829.4" r="2.5"/><circle cx="233.7" cy="844.1" r="2.5"/><circle cx="274" cy="846.5" r="2.5"/></g>
<g stroke="#000" fill="none" stroke-linecap="butt"><polyline points="48.00,13.30 48.00,176.30 335.40,176.30" stroke-width="1.45" stroke-linejoin="round"/><line x1="44.30" y1="166.40" x2="48.00" y2="166.40" stroke-width="1.45"/><line x1="44.30" y1="132.38" x2="48.00" y2="132.38" stroke-width="1.45"/><line x1="44.30" y1="98.35" x2="48.00" y2="98.35" stroke-width="1.45"/><line x1="44.30" y1="64.33" x2="48.00" y2="64.33" stroke-width="1.45"/><line x1="44.30" y1="30.30" x2="48.00" y2="30.30" stroke-width="1.45"/><line x1="126.38" y1="176.30" x2="126.38" y2="180.00" stroke-width="1.45"/><line x1="257.02" y1="176.30" x2="257.02" y2="180.00" stroke-width="1.45"/><line x1="100.25" y1="23.50" x2="152.51" y2="23.50" stroke-width="1.45"/><line x1="100.25" y1="166.40" x2="152.51" y2="166.40" stroke-width="1.45"/><line x1="126.38" y1="23.50" x2="126.38" y2="91.55" stroke-width="1.45"/><line x1="126.38" y1="166.40" x2="126.38" y2="166.40" stroke-width="1.45"/><rect x="80.66" y="91.55" width="91.45" height="74.85" fill="none" stroke-width="1.45" stroke-linejoin="round"/><line x1="80.66" y1="118.77" x2="172.10" y2="118.77" stroke-width="2.8"/><line x1="230.89" y1="23.50" x2="283.15" y2="23.50" stroke-width="1.45"/><line x1="230.89" y1="152.79" x2="283.15" y2="152.79" stroke-width="1.45"/><line x1="257.02" y1="23.50" x2="257.02" y2="71.13" stroke-width="1.45"/><line x1="257.02" y1="118.77" x2="257.02" y2="152.79" stroke-width="1.45"/><rect x="211.30" y="71.13" width="91.45" height="47.64" fill="none" stroke-width="1.45" stroke-linejoin="round"/><line x1="211.30" y1="91.55" x2="302.74" y2="91.55" stroke-width="2.8"/><polyline points="404.80,13.30 404.80,176.30 684.80,176.30" stroke-width="1.45" stroke-linejoin="round"/><line x1="401.10" y1="168.50" x2="404.80" y2="168.50" stroke-width="1.45"/><line x1="401.10" y1="127.93" x2="404.80" y2="127.93" stroke-width="1.45"/><line x1="401.10" y1="87.37" x2="404.80" y2="87.37" stroke-width="1.45"/><line x1="401.10" y1="46.80" x2="404.80" y2="46.80" stroke-width="1.45"/><line x1="481.16" y1="176.30" x2="481.16" y2="180.00" stroke-width="1.45"/><line x1="608.44" y1="176.30" x2="608.44" y2="180.00" stroke-width="1.45"/><line x1="455.71" y1="75.80" x2="506.62" y2="75.80" stroke-width="1.45"/><line x1="455.71" y1="168.40" x2="506.62" y2="168.40" stroke-width="1.45"/><line x1="481.16" y1="75.80" x2="481.16" y2="127.30" stroke-width="1.45"/><line x1="481.16" y1="162.80" x2="481.16" y2="168.40" stroke-width="1.45"/><rect x="436.62" y="127.30" width="89.09" height="35.50" fill="none" stroke-width="1.45" stroke-linejoin="round"/><line x1="436.62" y1="150.00" x2="525.71" y2="150.00" stroke-width="2.8"/><line x1="582.98" y1="132.90" x2="633.89" y2="132.90" stroke-width="1.45"/><line x1="582.98" y1="168.40" x2="633.89" y2="168.40" stroke-width="1.45"/><line x1="608.44" y1="132.90" x2="608.44" y2="152.50" stroke-width="1.45"/><line x1="608.44" y1="166.90" x2="608.44" y2="168.40" stroke-width="1.45"/><rect x="563.89" y="152.50" width="89.09" height="14.40" fill="none" stroke-width="1.45" stroke-linejoin="round"/><line x1="563.89" y1="161.10" x2="652.98" y2="161.10" stroke-width="2.8"/><polyline points="56.40,239.10 56.40,402.10 335.40,402.10" stroke-width="1.45" stroke-linejoin="round"/><line x1="52.70" y1="394.60" x2="56.40" y2="394.60" stroke-width="1.45"/><line x1="52.70" y1="351.23" x2="56.40" y2="351.23" stroke-width="1.45"/><line x1="52.70" y1="307.87" x2="56.40" y2="307.87" stroke-width="1.45"/><line x1="52.70" y1="264.50" x2="56.40" y2="264.50" stroke-width="1.45"/><line x1="132.49" y1="402.10" x2="132.49" y2="405.80" stroke-width="1.45"/><line x1="259.31" y1="402.10" x2="259.31" y2="405.80" stroke-width="1.45"/><line x1="107.13" y1="276.70" x2="157.85" y2="276.70" stroke-width="1.45"/><line x1="107.13" y1="386.00" x2="157.85" y2="386.00" stroke-width="1.45"/><line x1="132.49" y1="276.70" x2="132.49" y2="319.30" stroke-width="1.45"/><line x1="132.49" y1="351.10" x2="132.49" y2="386.00" stroke-width="1.45"/><rect x="88.10" y="319.30" width="88.77" height="31.80" fill="none" stroke-width="1.45" stroke-linejoin="round"/><line x1="88.10" y1="335.70" x2="176.88" y2="335.70" stroke-width="2.8"/><line x1="233.95" y1="303.40" x2="284.67" y2="303.40" stroke-width="1.45"/><line x1="233.95" y1="394.70" x2="284.67" y2="394.70" stroke-width="1.45"/><line x1="259.31" y1="303.40" x2="259.31" y2="338.30" stroke-width="1.45"/><line x1="259.31" y1="376.10" x2="259.31" y2="394.70" stroke-width="1.45"/><rect x="214.92" y="338.30" width="88.77" height="37.80" fill="none" stroke-width="1.45" stroke-linejoin="round"/><line x1="214.92" y1="363.60" x2="303.70" y2="363.60" stroke-width="2.8"/><polyline points="390.40,239.10 390.40,402.10 684.80,402.10" stroke-width="1.45" stroke-linejoin="round"/><line x1="386.70" y1="364.40" x2="390.40" y2="364.40" stroke-width="1.45"/><line x1="386.70" y1="320.60" x2="390.40" y2="320.60" stroke-width="1.45"/><line x1="386.70" y1="276.80" x2="390.40" y2="276.80" stroke-width="1.45"/><line x1="470.69" y1="402.10" x2="470.69" y2="405.80" stroke-width="1.45"/><line x1="604.51" y1="402.10" x2="604.51" y2="405.80" stroke-width="1.45"/><line x1="443.93" y1="254.90" x2="497.45" y2="254.90" stroke-width="1.45"/><line x1="443.93" y1="386.30" x2="497.45" y2="386.30" stroke-width="1.45"/><line x1="470.69" y1="254.90" x2="470.69" y2="298.70" stroke-width="1.45"/><line x1="470.69" y1="342.50" x2="470.69" y2="386.30" stroke-width="1.45"/><rect x="423.85" y="298.70" width="93.67" height="43.80" fill="none" stroke-width="1.45" stroke-linejoin="round"/><line x1="423.85" y1="320.60" x2="517.53" y2="320.60" stroke-width="2.8"/><line x1="577.75" y1="276.80" x2="631.27" y2="276.80" stroke-width="1.45"/><line x1="577.75" y1="386.30" x2="631.27" y2="386.30" stroke-width="1.45"/><line x1="604.51" y1="276.80" x2="604.51" y2="320.60" stroke-width="1.45"/><line x1="604.51" y1="364.40" x2="604.51" y2="386.30" stroke-width="1.45"/><rect x="557.67" y="320.60" width="93.67" height="43.80" fill="none" stroke-width="1.45" stroke-linejoin="round"/><line x1="557.67" y1="342.50" x2="651.35" y2="342.50" stroke-width="2.8"/><polyline points="40.10,464.90 40.10,627.90 335.40,627.90" stroke-width="1.45" stroke-linejoin="round"/><line x1="36.40" y1="586.90" x2="40.10" y2="586.90" stroke-width="1.45"/><line x1="36.40" y1="545.40" x2="40.10" y2="545.40" stroke-width="1.45"/><line x1="36.40" y1="503.90" x2="40.10" y2="503.90" stroke-width="1.45"/><line x1="120.64" y1="627.90" x2="120.64" y2="631.60" stroke-width="1.45"/><line x1="254.86" y1="627.90" x2="254.86" y2="631.60" stroke-width="1.45"/><line x1="93.79" y1="489.20" x2="147.48" y2="489.20" stroke-width="1.45"/><line x1="93.79" y1="618.00" x2="147.48" y2="618.00" stroke-width="1.45"/><line x1="120.64" y1="489.20" x2="120.64" y2="534.90" stroke-width="1.45"/><line x1="120.64" y1="578.50" x2="120.64" y2="618.00" stroke-width="1.45"/><rect x="73.66" y="534.90" width="93.96" height="43.60" fill="none" stroke-width="1.45" stroke-linejoin="round"/><line x1="73.66" y1="559.90" x2="167.62" y2="559.90" stroke-width="2.8"/><line x1="228.02" y1="518.10" x2="281.71" y2="518.10" stroke-width="1.45"/><line x1="228.02" y1="620.20" x2="281.71" y2="620.20" stroke-width="1.45"/><line x1="254.86" y1="518.10" x2="254.86" y2="557.70" stroke-width="1.45"/><line x1="254.86" y1="587.80" x2="254.86" y2="620.20" stroke-width="1.45"/><rect x="207.88" y="557.70" width="93.96" height="30.10" fill="none" stroke-width="1.45" stroke-linejoin="round"/><line x1="207.88" y1="572.20" x2="301.84" y2="572.20" stroke-width="2.8"/><polyline points="396.20,464.90 396.20,627.90 684.80,627.90" stroke-width="1.45" stroke-linejoin="round"/><line x1="392.50" y1="597.15" x2="396.20" y2="597.15" stroke-width="1.45"/><line x1="392.50" y1="550.12" x2="396.20" y2="550.12" stroke-width="1.45"/><line x1="392.50" y1="503.10" x2="396.20" y2="503.10" stroke-width="1.45"/><line x1="474.91" y1="627.90" x2="474.91" y2="631.60" stroke-width="1.45"/><line x1="606.09" y1="627.90" x2="606.09" y2="631.60" stroke-width="1.45"/><line x1="448.67" y1="491.70" x2="501.15" y2="491.70" stroke-width="1.45"/><line x1="448.67" y1="610.10" x2="501.15" y2="610.10" stroke-width="1.45"/><line x1="474.91" y1="491.70" x2="474.91" y2="545.80" stroke-width="1.45"/><line x1="474.91" y1="582.20" x2="474.91" y2="610.10" stroke-width="1.45"/><rect x="429.00" y="545.80" width="91.83" height="36.40" fill="none" stroke-width="1.45" stroke-linejoin="round"/><line x1="429.00" y1="566.20" x2="520.82" y2="566.20" stroke-width="2.8"/><line x1="579.85" y1="502.60" x2="632.33" y2="502.60" stroke-width="1.45"/><line x1="579.85" y1="620.50" x2="632.33" y2="620.50" stroke-width="1.45"/><line x1="606.09" y1="502.60" x2="606.09" y2="555.00" stroke-width="1.45"/><line x1="606.09" y1="590.10" x2="606.09" y2="620.50" stroke-width="1.45"/><rect x="560.18" y="555.00" width="91.83" height="35.10" fill="none" stroke-width="1.45" stroke-linejoin="round"/><line x1="560.18" y1="570.80" x2="652.00" y2="570.80" stroke-width="2.8"/><polyline points="53.50,690.90 53.50,853.90 335.40,853.90" stroke-width="1.45" stroke-linejoin="round"/><line x1="49.80" y1="849.10" x2="53.50" y2="849.10" stroke-width="1.45"/><line x1="49.80" y1="799.83" x2="53.50" y2="799.83" stroke-width="1.45"/><line x1="49.80" y1="750.57" x2="53.50" y2="750.57" stroke-width="1.45"/><line x1="49.80" y1="701.30" x2="53.50" y2="701.30" stroke-width="1.45"/><line x1="130.38" y1="853.90" x2="130.38" y2="857.60" stroke-width="1.45"/><line x1="258.52" y1="853.90" x2="258.52" y2="857.60" stroke-width="1.45"/><line x1="104.75" y1="698.20" x2="156.01" y2="698.20" stroke-width="1.45"/><line x1="104.75" y1="840.60" x2="156.01" y2="840.60" stroke-width="1.45"/><line x1="130.38" y1="698.20" x2="130.38" y2="743.50" stroke-width="1.45"/><line x1="130.38" y1="785.60" x2="130.38" y2="840.60" stroke-width="1.45"/><rect x="85.53" y="743.50" width="89.70" height="42.10" fill="none" stroke-width="1.45" stroke-linejoin="round"/><line x1="85.53" y1="767.50" x2="175.23" y2="767.50" stroke-width="2.8"/><line x1="232.89" y1="713.00" x2="284.15" y2="713.00" stroke-width="1.45"/><line x1="232.89" y1="846.60" x2="284.15" y2="846.60" stroke-width="1.45"/><line x1="258.52" y1="713.00" x2="258.52" y2="759.20" stroke-width="1.45"/><line x1="258.52" y1="804.00" x2="258.52" y2="846.60" stroke-width="1.45"/><rect x="213.67" y="759.20" width="89.70" height="44.80" fill="none" stroke-width="1.45" stroke-linejoin="round"/><line x1="213.67" y1="779.70" x2="303.37" y2="779.70" stroke-width="2.8"/></g>
<g opacity="0.999"><text transform="translate(0,11.90) scale(1.0,1)" style="font-size:16.4px;text-rendering:geometricPrecision">A</text><text transform="translate(41.40,171.70) scale(0.935,1)" text-anchor="end">70</text><text transform="translate(41.40,137.68) scale(0.935,1)" text-anchor="end">75</text><text transform="translate(41.40,103.65) scale(0.935,1)" text-anchor="end">80</text><text transform="translate(41.40,69.63) scale(0.935,1)" text-anchor="end">85</text><text transform="translate(41.40,35.60) scale(0.935,1)" text-anchor="end">90</text><text transform="translate(126.38,192.50) scale(0.935,1)" text-anchor="middle">Las Virgenes</text><text transform="translate(257.02,192.50) scale(0.935,1)" text-anchor="middle">Newhall</text><text transform="translate(20.60,94.80) rotate(-90) scale(0.935,1)" text-anchor="middle">Days to flower</text><text transform="translate(348.8,11.90) scale(1.0,1)" style="font-size:16.4px;text-rendering:geometricPrecision">B</text><text transform="translate(398.20,173.80) scale(0.935,1)" text-anchor="end">0</text><text transform="translate(398.20,133.23) scale(0.935,1)" text-anchor="end">50</text><text transform="translate(398.20,92.67) scale(0.935,1)" text-anchor="end">100</text><text transform="translate(398.20,52.10) scale(0.935,1)" text-anchor="end">150</text><text transform="translate(481.16,192.50) scale(0.935,1)" text-anchor="middle">Las Virgenes</text><text transform="translate(608.44,192.50) scale(0.935,1)" text-anchor="middle">Newhall</text><text transform="translate(370.00,94.80) rotate(-90) scale(0.935,1)" text-anchor="middle">Number of flowers, early</text><text transform="translate(0,237.70) scale(1.0,1)" style="font-size:16.4px;text-rendering:geometricPrecision">C</text><text transform="translate(49.80,399.90) scale(0.935,1)" text-anchor="end">0</text><text transform="translate(49.80,356.53) scale(0.935,1)" text-anchor="end">200</text><text transform="translate(49.80,313.17) scale(0.935,1)" text-anchor="end">400</text><text transform="translate(49.80,269.80) scale(0.935,1)" text-anchor="end">600</text><text transform="translate(132.49,418.30) scale(0.935,1)" text-anchor="middle">Las Virgenes</text><text transform="translate(259.31,418.30) scale(0.935,1)" text-anchor="middle">Newhall</text><text transform="translate(22.00,320.60) rotate(-90) scale(0.935,1)" text-anchor="middle">Number of flowers, late</text><text transform="translate(348.8,237.70) scale(1.0,1)" style="font-size:16.4px;text-rendering:geometricPrecision">D</text><text transform="translate(383.80,369.70) scale(0.935,1)" text-anchor="end">3</text><text transform="translate(383.80,325.90) scale(0.935,1)" text-anchor="end">5</text><text transform="translate(383.80,282.10) scale(0.935,1)" text-anchor="end">7</text><text transform="translate(470.69,418.30) scale(0.935,1)" text-anchor="middle">Las Virgenes</text><text transform="translate(604.51,418.30) scale(0.935,1)" text-anchor="middle">Newhall</text><text transform="translate(370.60,320.60) rotate(-90) scale(0.935,1)" text-anchor="middle">Number of stems, late</text><text transform="translate(0,463.50) scale(1.0,1)" style="font-size:16.4px;text-rendering:geometricPrecision">E</text><text transform="translate(33.50,592.20) scale(0.935,1)" text-anchor="end">2</text><text transform="translate(33.50,550.70) scale(0.935,1)" text-anchor="end">4</text><text transform="translate(33.50,509.20) scale(0.935,1)" text-anchor="end">6</text><text transform="translate(120.64,644.10) scale(0.935,1)" text-anchor="middle">Las Virgenes</text><text transform="translate(254.86,644.10) scale(0.935,1)" text-anchor="middle">Newhall</text><text transform="translate(20.20,546.40) rotate(-90) scale(0.935,1)" text-anchor="middle">Plant height (cm), early</text><text transform="translate(348.8,463.50) scale(1.0,1)" style="font-size:16.4px;text-rendering:geometricPrecision">F</text><text transform="translate(389.60,602.45) scale(0.935,1)" text-anchor="end">10</text><text transform="translate(389.60,555.42) scale(0.935,1)" text-anchor="end">20</text><text transform="translate(389.60,508.40) scale(0.935,1)" text-anchor="end">30</text><text transform="translate(474.91,644.10) scale(0.935,1)" text-anchor="middle">Las Virgenes</text><text transform="translate(606.09,644.10) scale(0.935,1)" text-anchor="middle">Newhall</text><text transform="translate(369.20,546.40) rotate(-90) scale(0.935,1)" text-anchor="middle">Plant length (cm), late</text><text transform="translate(0,689.50) scale(1.0,1)" style="font-size:16.4px;text-rendering:geometricPrecision">G</text><text transform="translate(46.90,854.40) scale(0.935,1)" text-anchor="end">0</text><text transform="translate(46.90,805.13) scale(0.935,1)" text-anchor="end">0.5</text><text transform="translate(46.90,755.87) scale(0.935,1)" text-anchor="end">1.0</text><text transform="translate(46.90,706.60) scale(0.935,1)" text-anchor="end">1.5</text><text transform="translate(130.38,870.10) scale(0.935,1)" text-anchor="middle">Las Virgenes</text><text transform="translate(258.52,870.10) scale(0.935,1)" text-anchor="middle">Newhall</text><text transform="translate(22.20,772.40) rotate(-90) scale(0.935,1)" text-anchor="middle">Biomass (g), dry</text></g>
</svg></body></html>
